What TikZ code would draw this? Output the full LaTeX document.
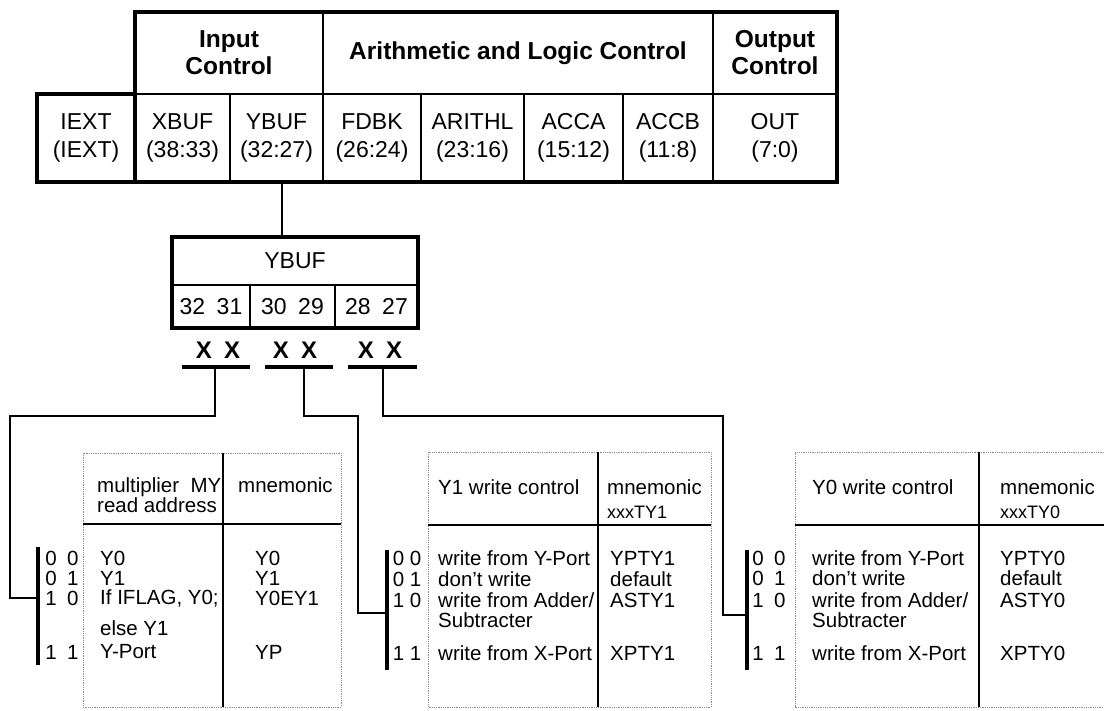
\documentclass[tikz,border=0pt]{standalone}
\usepackage{fontspec}
\setmainfont{Liberation Sans}
\begin{document}
\begin{tikzpicture}[x=1pt,y=-1pt,
reg/.style={draw,line width=1.6pt,outer sep=0pt,inner sep=0pt,anchor=north west,align=center,font=\fontsize{23}{28}\selectfont},
hdr/.style={reg,font=\fontsize{24.5}{27}\selectfont\bfseries},
regframe/.style={line width=3.4pt},
wire/.style={line width=1.8pt},
xbar/.style={line width=4pt},
seprule/.style={line width=2.6pt},
tabline/.style={black!45,densely dotted,line width=0.8pt},
txt/.style={anchor=west,inner sep=0pt,font=\fontsize{20.5}{20}\selectfont},
subtxt/.style={txt,font=\fontsize{18}{18}\selectfont},
bitcode/.style={txt,anchor=center},
bits/.style={inner sep=0pt,font=\fontsize{24}{24}\selectfont\bfseries}]
\useasboundingbox (0,0) rectangle (1104,711);
\foreach \l/\r/\n/\a/\b in {37/135/iext/IEXT/{(IEXT)},135/230/xbuf/XBUF/{(38:33)},230/323/ybuf/YBUF/{(32:27)},323/421/fdbk/FDBK/{(26:24)},421/524/arithl/ARITHL/{(23:16)},524/623/acca/ACCA/{(15:12)},623/713/accb/ACCB/{(11:8)},713/837/out/OUT/{(7:0)}}
{\pgfmathsetmacro\w{\r-\l}
\node[reg,minimum width=\w pt,minimum height=88pt] (\n) at (\l,94) {\a\\\b};}
\node[hdr,minimum width=188pt,minimum height=82pt] (inctl) at (135,12) {Input\\Control};
\node[hdr,minimum width=390pt,minimum height=82pt] (alctl) at (323,12) {Arithmetic and Logic Control};
\node[hdr,minimum width=124pt,minimum height=82pt] (outctl) at (713,12) {Output\\Control};
\draw[regframe] (iext.north west) -- (inctl.south west) |- (outctl.north east) |- (iext.south west) -- cycle;
\draw[regframe] (inctl.south west) -- (xbuf.south west);

\node[reg,minimum width=246pt,minimum height=48pt] (yb) at (172,237) {YBUF};
\foreach \l/\r/\n/\t in {172/250/yb1/32\hspace{0.5em}31,250/335/yb2/30\hspace{0.5em}29,335/418/yb3/28\hspace{0.5em}27}
{\pgfmathsetmacro\w{\r-\l}
\node[reg,minimum width=\w pt,minimum height=43pt] (\n) at (\l,285) {\t};}
\draw[regframe] (yb.north west) rectangle (yb3.south east);
\coordinate (tap) at ([xshift=5.5pt]ybuf.south);
\draw[wire] (tap) -- (tap |- yb.north);

\foreach \i/\x/\a/\b/\d in {1/218/182/250/215,2/295/265/333/304,3/380/348/417/383}
{\node[bits] (x\i) at (\x,350) {X\hspace{12pt}X};
\draw[xbar] (\a,367) -- (\b,367);
\coordinate (d\i) at (\d,367);}
\coordinate (k1) at (38,598);
\coordinate (k2) at (387,613);
\coordinate (k3) at (747,615);
\draw[wire] (d1) |- (10,416) |- (k1);
\draw[wire] (d2) |- (358,416) |- (k2);
\draw[wire] (d3) |- (723,416) |- (k3);
\draw[xbar] (38,547) -- (38,665);
\draw[xbar] (387,550) -- (387,670);
\draw[xbar] (747,550) -- (747,670);

\draw[tabline] (83,453) rectangle (341,707);
\draw[seprule] (83,524) -- (341,524);
\draw[seprule] (223,453) -- (223,707);
\node[txt,align=left] (t1h) at (97,495) {multiplier\ \ MY\\read address};
\node[txt] (t1m) at (238,485) {mnemonic};
\foreach \y/\c/\d/\m in {558/0\enspace0/Y0/Y0,578/0\enspace1/Y1/Y1,598/1\enspace0/{If IFLAG, Y0;}/Y0EY1,652/1\enspace1/Y-Port/YP}
{\node[bitcode] (t1c\y) at (62,\y) {\c};
\node[txt] (t1d\y) at (100,\y) {\d};
\node[txt] (t1n\y) at (255,\y) {\m};}
\node[txt] (t1e) at (100,628) {else Y1};

\draw[tabline] (428,452) rectangle (711,707);
\draw[seprule] (428,525) -- (711,525);
\draw[seprule] (598,452) -- (598,707);
\node[txt] (t2h) at (438,487) {Y1 write control};
\node[txt] (t2m) at (607,487) {mnemonic};
\node[subtxt] (t2x) at (607,512) {xxxTY1};
\foreach \y/\c/\d/\m in {558/0\ 0/write from Y-Port/YPTY1,579/0\ 1/don't write/default,600/1\ 0/{write from Adder/}/ASTY1,653/1\ 1/write from X-Port/XPTY1}
{\node[bitcode] (t2c\y) at (407,\y) {\c};
\node[txt] (t2d\y) at (438,\y) {\d};
\node[txt] (t2n\y) at (610,\y) {\m};}
\node[txt] (t2e) at (438,620) {Subtracter};

\draw[tabline] (1104,452) -| (795,707) -- (1104,707);
\draw[seprule] (795,525) -- (1104,525);
\draw[seprule] (979,452) -- (979,707);
\node[txt] (t3h) at (812,487) {Y0 write control};
\node[txt] (t3m) at (1000,487) {mnemonic};
\node[subtxt] (t3x) at (1000,512) {xxxTY0};
\foreach \y/\c/\d/\m in {558/0\enspace0/write from Y-Port/YPTY0,578/0\enspace1/don't write/default,600/1\enspace0/{write from Adder/}/ASTY0,653/1\enspace1/write from X-Port/XPTY0}
{\node[bitcode] (t3c\y) at (769,\y) {\c};
\node[txt] (t3d\y) at (812,\y) {\d};
\node[txt] (t3n\y) at (1000,\y) {\m};}
\node[txt] (t3e) at (812,620) {Subtracter};
\end{tikzpicture}
\end{document}
